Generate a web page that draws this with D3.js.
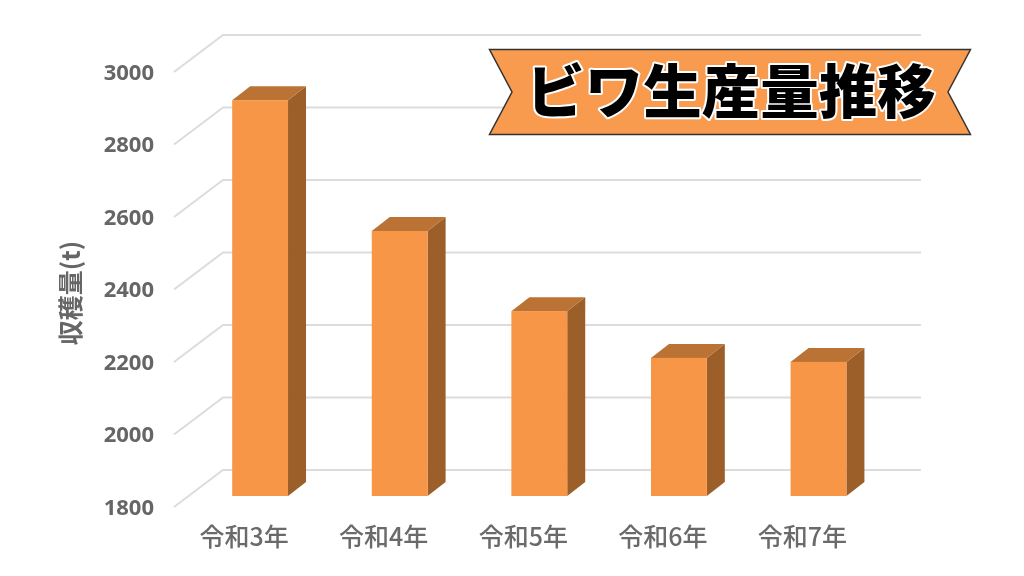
<!DOCTYPE html>
<html><head><meta charset="utf-8">
<script src="https://cdn.jsdelivr.net/npm/d3@7"></script>
<style>html,body{margin:0;padding:0;background:#fff}svg{display:block}</style>
</head><body><svg id="c" width="1024" height="576"><defs><filter id="soft" x="-5%" y="-5%" width="110%" height="110%"><feGaussianBlur stdDeviation="0.45"/></filter></defs></svg>
<script>
const categories = ["令和3年","令和4年","令和5年","令和6年","令和7年"];
const values = [2892,2531,2310,2181,2170];
const tickValues = [1800,2000,2200,2400,2600,2800,3000];
const titleText = "ビワ生産量推移";
const axisTitle = "収穫量(t)";

const svg = d3.select("#c");
const root = svg.append("g").attr("filter","url(#soft)");
const font = "'Noto Sans CJK JP','Noto Sans',sans-serif";
const y = d3.scaleLinear().domain([1800,3000]).range([507,72]);
const x = d3.scaleBand().domain(categories).range([190.3,888.3]).paddingInner(0.6).paddingOuter(0.3);
const wallDX = 49, wallDY = -37, gridL = 174, gridR = 921;
const barShift = -11, depthX = 18, depthY = -14;

const grid = root.append("g").attr("fill","none").attr("stroke","#dcdcdc").attr("stroke-width",2);
grid.selectAll("path").data(tickValues).join("path")
  .attr("d", d => `M${gridL},${y(d)}L${gridL+wallDX},${y(d)+wallDY}L${gridR},${y(d)+wallDY}`);

root.append("g").selectAll("text").data(tickValues).join("text")
  .attr("x",154).attr("y",d=>y(d)+7.5)
  .attr("text-anchor","end").attr("font-family","'Open Sans',sans-serif")
  .attr("font-weight",700).attr("font-size",22).attr("fill","#666")
  .text(d=>d);

const bars = root.append("g").selectAll("g").data(categories).join("g");
const bw = x.bandwidth();
const base = y(1800)+barShift;
const top_ = (i)=> y(values[i])+barShift;
bars.append("path").attr("fill","#9c5e2b")
  .attr("d",(d,i)=>{const r=x(d)+bw;return `M${r},${top_(i)}L${r+depthX},${top_(i)+depthY}L${r+depthX},${base+depthY}L${r},${base}Z`;});
bars.append("path").attr("fill","#ba7334")
  .attr("d",(d,i)=>{const l=x(d),r=l+bw,t=top_(i);return `M${l},${t}L${l+depthX},${t+depthY}L${r+depthX},${t+depthY}L${r},${t}Z`;});
bars.append("rect").attr("fill","#f79646")
  .attr("x",d=>x(d)).attr("width",bw).attr("y",(d,i)=>top_(i)).attr("height",(d,i)=>base-top_(i));

root.append("g").selectAll("text").data(categories).join("text")
  .attr("x",d=>x(d)+bw/2-16).attr("y",546)
  .attr("text-anchor","middle").attr("font-family",font).attr("font-weight",500).attr("font-size",25).attr("fill","#6a6a6a")
  .text(d=>d);

root.append("text").attr("transform","translate(80,293) rotate(-90)")
  .attr("text-anchor","middle").attr("font-family",font).attr("font-weight",700)
  .attr("font-size",25).attr("fill","#666").text(axisTitle);

root.append("polygon").attr("points","489.5,49.5 970.5,49.5 948,92 970.5,134.5 489.5,134.5 512,92")
  .attr("fill","#f99b50").attr("stroke","#333").attr("stroke-width",1.5);
root.append("text").attr("x",731).attr("y",113).attr("text-anchor","middle")
  .attr("font-family",font).attr("font-weight",900).attr("font-size",58.5)
  .attr("fill","#000").attr("stroke","#fff").attr("stroke-width",4).attr("paint-order","stroke")
  .attr("stroke-linejoin","round").text(titleText);
</script></body></html>
